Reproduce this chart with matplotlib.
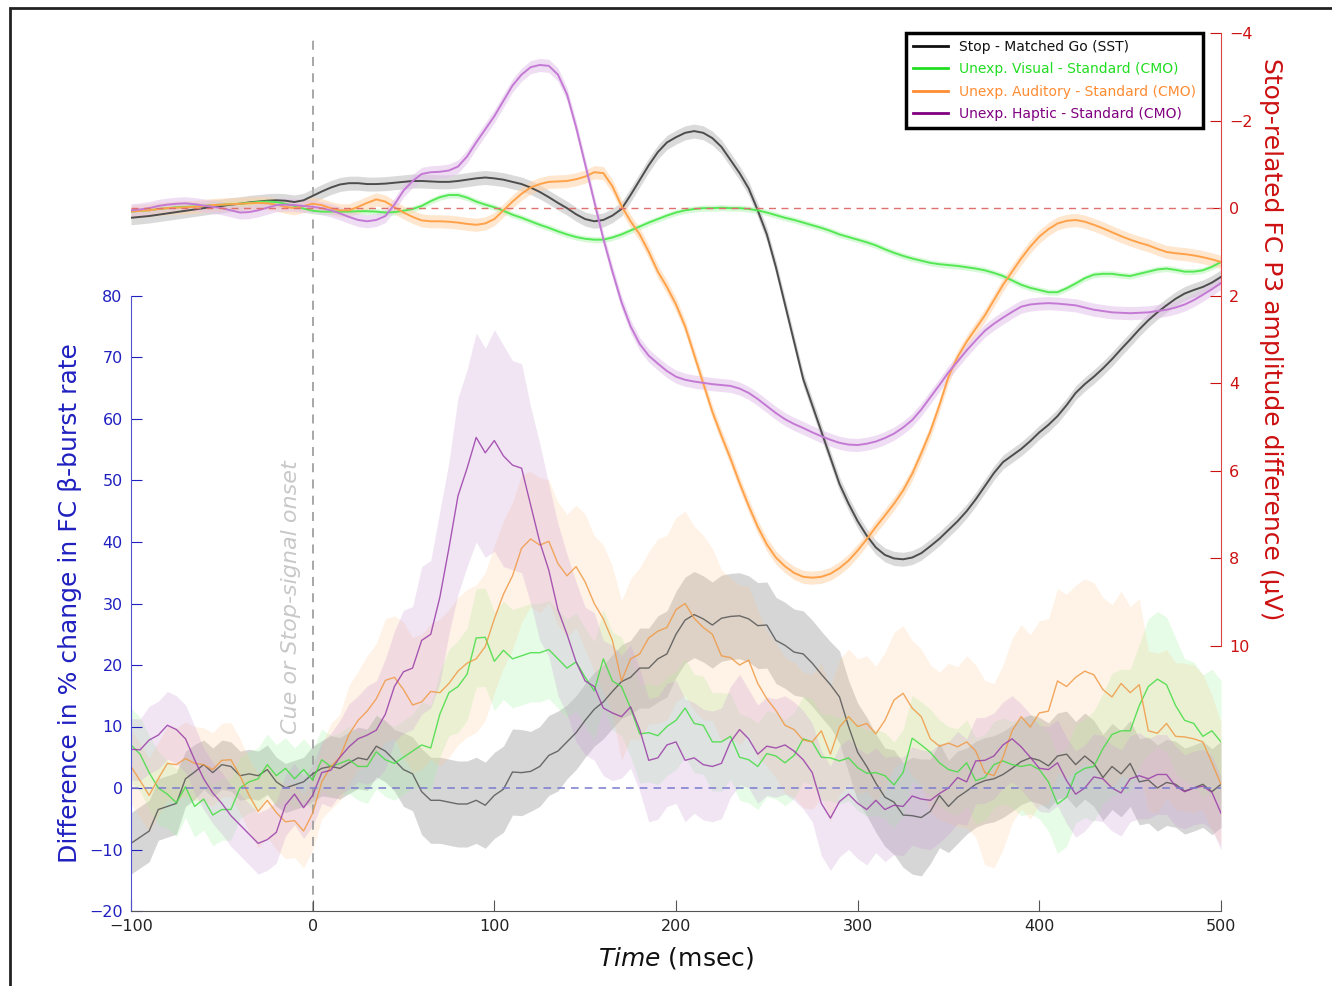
import numpy as np
import matplotlib
matplotlib.use("Agg")
import matplotlib.pyplot as plt
from matplotlib.lines import Line2D
from matplotlib.patches import Rectangle

# time base (msec), 5 msec steps
t_fine = np.arange(-100, 505, 5)

# ---- lower panel: difference in % change in FC beta-burst rate ----
sst_beta = [
    -9.0, -8.0, -7.0, -3.5, -3.0, -2.5, 1.5, 2.6, 3.8, 2.5,
    3.8, 3.5, 2.0, 2.3, 2.0, 3.0, 1.0, 0.0, 0.5, 1.0,
    2.3, 3.2, 3.5, 3.2, 4.1, 4.9, 4.6, 6.8, 6.0, 4.5,
    3.0, 2.3, -0.6, -2.0, -2.0, -2.3, -2.6, -2.6, -2.0, -2.8,
    -1.2, -0.2, 2.6, 2.5, 2.7, 3.5, 5.3, 6.0, 7.5, 9.0,
    11.0, 12.8, 14.0, 15.7, 17.3, 18.0, 19.5, 19.5, 21.0, 21.8,
    25.0, 27.3, 28.2, 27.5, 26.5, 27.6, 27.9, 28.0, 27.5, 26.4,
    26.5, 24.0, 23.2, 22.1, 21.8, 20.3, 18.5, 16.8, 14.8, 10.0,
    5.8, 3.5, 0.8, -1.5, -2.3, -4.4, -4.5, -4.8, -3.8, -1.2,
    -3.0, -1.5, -0.5, 0.6, 1.2, 1.5, 2.2, 3.2, 4.3, 4.9,
    4.5, 3.6, 5.2, 5.5, 3.8, 5.2, 4.0, 1.7, 3.5, 2.3,
    4.0, 1.0, 1.3, 0.0, 0.9, 0.6, -0.5, 0.0, 0.6, -0.6, 0.6]
visual_beta = [
    7.0, 5.5, 2.5, 0.0, -1.0, -2.4, 0.2, -3.0, -1.8, -4.4,
    -3.5, -3.5, 0.0, 1.0, 1.5, 3.8, 2.0, 3.2, 1.5, 3.0,
    1.3, 4.6, 3.5, 4.0, 4.6, 3.5, 3.5, 5.9, 4.6, 4.0,
    5.0, 6.0, 7.0, 6.5, 12.0, 15.5, 16.5, 18.5, 24.4, 24.5,
    20.6, 22.4, 21.0, 21.5, 22.0, 22.0, 22.5, 21.0, 19.5, 20.5,
    18.0, 15.8, 21.0, 17.4, 16.5, 13.0, 8.8, 9.0, 8.5, 10.0,
    11.0, 13.0, 10.5, 10.2, 7.5, 7.5, 8.4, 5.0, 4.6, 3.5,
    5.6, 5.2, 4.1, 5.3, 8.0, 7.5, 5.0, 4.9, 4.4, 4.9,
    3.3, 2.4, 2.5, 2.0, 0.5, 2.5, 8.1, 7.0, 5.8, 4.1,
    3.0, 2.6, 4.1, 1.2, 1.7, 3.8, 4.4, 3.8, 3.5, 3.8,
    3.0, 1.0, -2.6, -1.5, 2.3, 3.2, 3.5, 6.4, 8.7, 9.3,
    9.3, 13.4, 16.5, 17.7, 16.8, 13.4, 11.0, 10.5, 8.4, 9.3, 7.5]
auditory_beta = [
    3.5, 1.2, -1.2, 1.5, 4.0, 3.8, 4.8, 4.0, 3.8, 3.0,
    4.5, 4.6, 2.0, -1.2, -3.8, -2.0, -4.0, -5.5, -5.3, -7.0,
    -4.1, 1.0, 3.5, 5.0, 8.7, 11.0, 12.5, 14.5, 17.5, 18.0,
    16.0, 13.5, 14.0, 15.7, 15.5, 17.0, 19.0, 20.3, 21.0, 23.0,
    27.5, 31.5, 34.5, 39.0, 40.5, 39.5, 40.1, 36.5, 34.5, 36.0,
    33.5, 30.0, 27.5, 24.0, 17.4, 21.0, 21.8, 24.4, 25.5, 26.1,
    29.0, 30.0, 27.6, 26.1, 25.0, 21.5, 21.2, 20.0, 20.8, 17.0,
    14.5, 12.6, 10.2, 9.5, 7.8, 7.5, 9.3, 5.5, 9.9, 11.6,
    10.0, 10.5, 8.8, 11.0, 14.3, 15.4, 13.0, 11.6, 8.0, 6.8,
    7.3, 6.7, 7.5, 6.0, 2.5, 2.0, 5.0, 9.3, 11.6, 9.9,
    12.2, 12.5, 17.4, 16.5, 18.0, 19.0, 18.4, 16.0, 14.8, 17.0,
    15.5, 16.8, 9.3, 8.9, 10.5, 8.4, 8.3, 8.0, 7.5, 4.1, 0.6]
haptic_beta = [
    6.3, 6.2, 7.8, 8.6, 10.2, 9.5, 8.0, 4.6, 1.5, -0.8,
    -2.5, -4.5, -6.0, -7.5, -9.0, -8.4, -7.2, -2.8, -1.0, -3.2,
    -1.2, 2.5, 2.9, 5.0, 6.7, 8.0, 8.6, 9.4, 12.0, 16.5,
    18.9, 19.5, 24.0, 25.0, 31.0, 39.0, 47.5, 52.0, 57.0, 54.5,
    56.5, 54.0, 52.5, 52.0, 46.0, 40.0, 35.4, 29.0, 25.0, 20.5,
    17.4, 16.5, 13.0, 12.2, 11.6, 13.2, 9.5, 4.5, 4.9, 7.0,
    7.5, 4.5, 4.9, 3.8, 3.5, 4.0, 7.5, 9.5, 8.0, 5.5,
    6.8, 6.5, 7.0, 6.0, 4.6, 2.5, -2.5, -4.9, -2.2, -1.0,
    -2.5, -3.5, -2.0, -3.5, -2.8, -3.0, -1.3, -1.8, -2.0, -0.9,
    0.0, 1.7, 1.0, 4.4, 4.5, 5.2, 7.0, 8.0, 6.7, 5.0,
    3.2, 3.0, 4.1, 1.2, -1.0, 0.0, 1.8, 1.5, 0.0, -0.8,
    1.5, 2.0, 1.5, 2.2, 2.2, 0.3, -0.6, 0.0, 0.3, -0.7, -4.1]

# half-width of the shaded error bands, one value per 10 msec
sst_beta_err = [
    5, 5, 5, 4.5, 4, 4, 4, 4, 4, 4,
    4.5, 5, 5, 5, 5, 6, 7, 7, 7, 7,
    7, 7, 6.5, 6.5, 6, 6, 6, 6, 6.5, 7,
    7, 7, 7, 7, 7, 7, 7, 7, 7, 7.5,
    8, 8, 8.5, 9.5, 8.5, 7.5, 7, 7, 7, 7,
    7, 7, 7, 7, 7, 7, 7, 7, 7, 7, 7]
visual_beta_err = [
    6, 6, 5.5, 5, 5, 5, 5, 5, 5, 5,
    5, 5, 5.5, 6, 6, 6, 7, 7, 7.5, 8,
    8, 8, 8, 8, 8, 8, 8, 8, 8, 8,
    8, 8, 8, 7, 7, 7, 7, 7, 7, 7,
    7, 7, 7, 7, 7, 7, 7, 7, 7, 8,
    8, 8, 8, 9, 10, 10, 11, 11, 10, 10, 10]
auditory_beta_err = [
    6, 6, 6, 6, 6, 6, 6, 6, 6, 6,
    6, 7, 8, 9, 10, 11, 11, 12, 12, 12,
    12, 12, 11, 10, 10, 11, 12, 13, 14, 15,
    15, 15, 14, 13, 12, 11, 11, 11, 11, 11,
    11, 11, 11, 11, 12, 13, 14, 15, 15, 15,
    15, 15, 15, 15, 15, 14, 13, 12, 12, 11, 10]
haptic_beta_err = [
    5, 5.5, 5.5, 5.5, 5, 5, 5, 5, 5, 5,
    5, 6, 7, 8, 9, 10, 12, 14, 16, 17,
    18, 17, 16, 14, 13, 12, 11, 10, 10, 10,
    10, 9, 9, 9, 8, 8, 8, 8, 8.5, 9,
    9, 8.5, 8, 8, 8, 7.5, 7, 7, 7, 7,
    7, 7, 7, 7, 7, 7, 6.5, 6.5, 6, 6, 6]

# ---- upper panel: stop-related FC P3 amplitude difference (uV) ----
sst_p3 = [
    0.22, 0.2, 0.18, 0.15, 0.12, 0.09, 0.06, 0.03, 0.0, -0.03,
    -0.05, -0.08, -0.1, -0.13, -0.15, -0.17, -0.18, -0.17, -0.14, -0.18,
    -0.28, -0.38, -0.47, -0.54, -0.57, -0.57, -0.55, -0.55, -0.56, -0.58,
    -0.6, -0.62, -0.62, -0.61, -0.6, -0.6, -0.62, -0.65, -0.68, -0.7,
    -0.68, -0.65, -0.6, -0.55, -0.47, -0.37, -0.25, -0.12, 0.0, 0.14,
    0.25, 0.3, 0.27, 0.17, 0.02, -0.3, -0.64, -0.98, -1.28, -1.5,
    -1.62, -1.72, -1.76, -1.72, -1.6, -1.4, -1.1, -0.8, -0.45, 0.05,
    0.6, 1.35, 2.2, 3.05, 3.9, 4.5, 5.1, 5.7, 6.3, 6.75,
    7.15, 7.48, 7.75, 7.92, 8.0, 8.02, 7.98, 7.88, 7.72, 7.55,
    7.35, 7.15, 6.92, 6.65, 6.35, 6.05, 5.8, 5.65, 5.5, 5.32,
    5.12, 4.95, 4.75, 4.5, 4.22, 4.02, 3.85, 3.66, 3.45, 3.22,
    3.0, 2.77, 2.56, 2.38, 2.22, 2.07, 1.95, 1.87, 1.8, 1.7, 1.57]
visual_p3 = [
    0.08, 0.06, 0.05, 0.02, 0.0, -0.02, -0.03, -0.04, -0.05, -0.07,
    -0.08, -0.09, -0.1, -0.12, -0.14, -0.15, -0.14, -0.1, -0.05, 0.01,
    0.06, 0.08, 0.08, 0.08, 0.08, 0.07, 0.07, 0.08, 0.1, 0.09,
    0.06, 0.02, -0.05, -0.16, -0.25, -0.3, -0.3, -0.24, -0.15, -0.08,
    -0.02, 0.06, 0.15, 0.22, 0.3, 0.38, 0.45, 0.53, 0.6, 0.66,
    0.7, 0.72, 0.72, 0.67, 0.6, 0.51, 0.42, 0.33, 0.25, 0.17,
    0.1, 0.05, 0.02, 0.0, 0.0, -0.01, 0.0, 0.0, 0.02, 0.05,
    0.1, 0.16, 0.22, 0.27, 0.33, 0.39, 0.45, 0.52, 0.6, 0.66,
    0.72, 0.78, 0.85, 0.94, 1.02, 1.09, 1.15, 1.2, 1.25, 1.28,
    1.3, 1.32, 1.35, 1.38, 1.42, 1.48, 1.55, 1.65, 1.75, 1.82,
    1.87, 1.92, 1.92, 1.83, 1.72, 1.6, 1.52, 1.5, 1.5, 1.53,
    1.55, 1.5, 1.45, 1.4, 1.38, 1.41, 1.45, 1.45, 1.42, 1.34, 1.23]
auditory_p3 = [
    0.08, 0.06, 0.05, 0.02, 0.0, -0.01, -0.02, -0.03, -0.05, -0.07,
    -0.08, -0.09, -0.1, -0.11, -0.12, -0.11, -0.08, -0.03, 0.0, -0.05,
    -0.1, -0.07, 0.0, 0.05, 0.05, -0.03, -0.12, -0.2, -0.15, -0.02,
    0.1, 0.2, 0.28, 0.3, 0.3, 0.31, 0.33, 0.36, 0.38, 0.35,
    0.25, 0.05, -0.15, -0.33, -0.47, -0.55, -0.6, -0.61, -0.62, -0.66,
    -0.72, -0.82, -0.8, -0.5, -0.05, 0.3, 0.6, 1.0, 1.45, 1.8,
    2.2, 2.7, 3.35, 4.0, 4.65, 5.2, 5.72, 6.28, 6.8, 7.28,
    7.68, 7.98, 8.18, 8.33, 8.42, 8.44, 8.42, 8.35, 8.22, 8.05,
    7.82, 7.56, 7.28, 7.02, 6.75, 6.45, 6.07, 5.6, 5.1, 4.5,
    3.85, 3.4, 3.05, 2.75, 2.45, 2.1, 1.75, 1.45, 1.15, 0.88,
    0.65, 0.48, 0.35, 0.29, 0.27, 0.31, 0.38, 0.46, 0.55, 0.64,
    0.72, 0.79, 0.85, 0.93, 1.0, 1.03, 1.05, 1.08, 1.12, 1.17, 1.23]
haptic_p3 = [
    0.05, 0.03, 0.0, -0.05, -0.08, -0.1, -0.11, -0.09, -0.06, -0.03,
    0.0, 0.05, 0.1, 0.09, 0.05, -0.01, -0.07, -0.08, -0.07, -0.05,
    -0.03, 0.0, 0.05, 0.12, 0.2, 0.27, 0.3, 0.27, 0.18, -0.08,
    -0.4, -0.62, -0.78, -0.82, -0.83, -0.86, -0.95, -1.18, -1.5, -1.8,
    -2.1, -2.45, -2.8, -3.05, -3.22, -3.27, -3.25, -3.05, -2.6, -1.85,
    -1.0, -0.15, 0.7, 1.45, 2.15, 2.7, 3.1, 3.37, 3.55, 3.72,
    3.85, 3.92, 3.96, 3.99, 4.02, 4.04, 4.06, 4.12, 4.22, 4.36,
    4.52, 4.68, 4.82, 4.93, 5.02, 5.12, 5.21, 5.29, 5.36, 5.4,
    5.41, 5.38, 5.33, 5.25, 5.15, 5.01, 4.84, 4.6, 4.32, 4.04,
    3.75, 3.5, 3.25, 3.02, 2.8, 2.64, 2.5, 2.37, 2.25, 2.2,
    2.18, 2.17, 2.18, 2.2, 2.22, 2.27, 2.32, 2.35, 2.38, 2.39,
    2.4, 2.39, 2.38, 2.35, 2.32, 2.27, 2.2, 2.1, 1.98, 1.85, 1.71]
p3_err = {"sst": 0.16, "visual": 0.07, "auditory": 0.15, "haptic": 0.15}

legend_labels = ["Stop - Matched Go (SST)", "Unexp. Visual - Standard (CMO)",
                 "Unexp. Auditory - Standard (CMO)", "Unexp. Haptic - Standard (CMO)"]

BLUE = "#2020c0"
RED = "#cc1111"

fig = plt.figure(figsize=(13.32, 9.86), dpi=100)
plt.rcParams["font.family"] = ["DejaVu Sans"]

ax1 = fig.add_axes([131 / 1332, 75 / 986, 1090 / 1332, 615 / 986])
ax2 = fig.add_axes([131 / 1332, 340 / 986, 1090 / 1332, 613 / 986])
ax2.patch.set_alpha(0)

# lower panel
lower = [
    (sst_beta, sst_beta_err, "#555555", "#8c8c8c", 0.35),
    (visual_beta, visual_beta_err, "#44dd44", "#9ff59f", 0.25),
    (auditory_beta, auditory_beta_err, "#f09a45", "#ffc890", 0.22),
    (haptic_beta, haptic_beta_err, "#9a3ea8", "#c99ad6", 0.25),
]
for vals, err, lc, bc, ba in lower:
    vals = np.array(vals)
    hw = np.repeat(np.array(err, dtype=float), 2)[:len(t_fine)]
    ax1.fill_between(t_fine, vals - hw, vals + hw, color=bc, alpha=ba, lw=0)
for vals, err, lc, bc, ba in lower:
    ax1.plot(t_fine, vals, color=lc, lw=1.0, alpha=0.85)

ax1.axhline(0, color="#7a7ad0", ls=(0, (5, 4)), lw=1.1)
ax1.axvline(0, ymin=0, ymax=(911 - 35) / 615, color="#a0a0a0", ls=(0, (5, 4)),
            lw=1.3, clip_on=False, zorder=1)
ax1.text(-12, 31, "Cue or Stop-signal onset", rotation=90, ha="center", va="center",
         fontsize=16, style="italic", color="#c8c8c8")

ax1.set_xlim(-100, 500)
ax1.set_ylim(-20, 80)
ax1.set_xticks(np.arange(-100, 600, 100))
ax1.set_yticks(np.arange(-20, 90, 10))
for s in ["top", "right"]:
    ax1.spines[s].set_visible(False)
ax1.spines["left"].set_color("#5050d0")
ax1.spines["bottom"].set_color("#555555")
ax1.tick_params(axis="y", direction="in", length=8, colors=BLUE, labelsize=11.5, pad=6)
ax1.tick_params(axis="x", direction="in", length=8, color="#555555",
                labelcolor="#222222", labelsize=11.5, pad=6)
ax1.set_ylabel("Difference in % change in FC β-burst rate", color=BLUE,
               fontsize=18, labelpad=5)
ax1.set_xlabel(r"$\it{Time}$ (msec)", fontsize=18, color="#111111", labelpad=8)

# upper panel
upper = [
    (sst_p3, p3_err["sst"], "#4d4d4d", "#bdbdbd", 0.55),
    (visual_p3, p3_err["visual"], "#55e855", "#b0f5b0", 0.5),
    (auditory_p3, p3_err["auditory"], "#ffa24a", "#ffd3a8", 0.55),
    (haptic_p3, p3_err["haptic"], "#c47ad4", "#e2c4ea", 0.55),
]
for vals, err, lc, bc, ba in upper:
    vals = np.array(vals)
    ax2.fill_between(t_fine, vals - err, vals + err, color=bc, alpha=ba, lw=0)
for vals, err, lc, bc, ba in upper:
    ax2.plot(t_fine, vals, color=lc, lw=1.4, solid_joinstyle="round")

ax2.axhline(0, color="#e07070", ls=(0, (5, 4)), lw=1.0)
ax2.set_xlim(-100, 500)
ax2.set_ylim(10, -4)
ax2.set_yticks(np.arange(-4, 12, 2))
ax2.set_xticks([])
for s in ["top", "left", "bottom"]:
    ax2.spines[s].set_visible(False)
ax2.spines["right"].set_color("#dd4444")
ax2.yaxis.tick_right()
ax2.yaxis.set_label_position("right")
ax2.tick_params(axis="y", direction="in", length=8, colors=RED, labelsize=11.5, pad=6)
ax2.set_ylabel("Stop-related FC P3 amplitude difference (µV)", color=RED,
               fontsize=18, rotation=270, labelpad=22)

handles = [Line2D([], [], color=c, lw=2) for c in ["#111111", "#22dd22", "#ff8c33", "#800080"]]
leg = ax2.legend(handles, legend_labels, loc="upper right",
                 bbox_to_anchor=((1203 - 131) / 1090, 1.0), borderaxespad=0,
                 fontsize=10, frameon=True, fancybox=False, framealpha=1,
                 handlelength=2.5, labelspacing=0.6, borderpad=0.5)
leg.get_frame().set_edgecolor("black")
leg.get_frame().set_linewidth(2.5)
for txt, c in zip(leg.get_texts(), ["#111111", "#22dd22", "#ff8c33", "#800080"]):
    txt.set_color(c)

fig.patches.append(Rectangle((10 / 1332, -0.05), 1.1, 1.05 - 8 / 986,
                             transform=fig.transFigure, fill=False,
                             lw=2, ec="#222222"))

fig.savefig("out.png", dpi=100)
